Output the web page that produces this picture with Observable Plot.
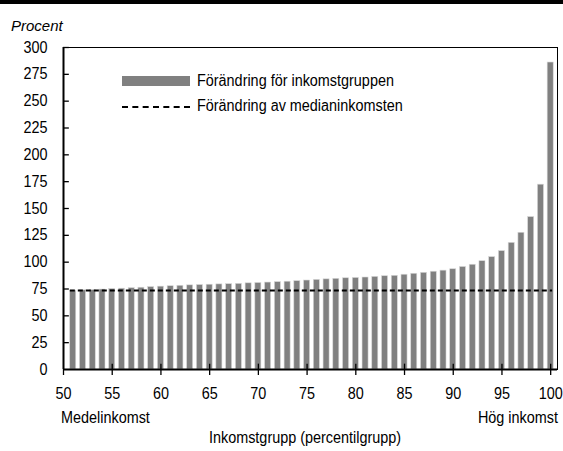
<!DOCTYPE html>
<html>
<head>
<meta charset="utf-8">
<script src="https://cdn.jsdelivr.net/npm/d3@7"></script>
<script src="https://cdn.jsdelivr.net/npm/@observablehq/plot@0.6"></script>
<style>
  html, body { margin: 0; padding: 0; background: white; }
  #wrap { position: relative; width: 563px; height: 451px; overflow: hidden; font-family: "Liberation Sans", Arial, sans-serif; color: black; }
  #wrap svg { position: absolute; left: 0; top: 0; }
  .lbl { position: absolute; font-size: 16px; line-height: 1; white-space: nowrap; }
  #bar { position: absolute; left: 0; top: 0; width: 563px; height: 4px; background: black; }
  #procent { position: absolute; left: 11px; top: 17px; font-family: "Liberation Sans", Arial, sans-serif; font-style: italic; font-size: 15px; }
  .sw { position: absolute; }
</style>
</head>
<body>
<div id="wrap">
  <div id="bar"></div>
  <div id="procent">Procent</div>
</div>
<script>
const percentiles = [51,52,53,54,55,56,57,58,59,60,61,62,63,64,65,66,67,68,69,70,71,72,73,74,75,76,77,78,79,80,81,82,83,84,85,86,87,88,89,90,91,92,93,94,95,96,97,98,99,100];
const groupChange = [73.5,73.8,74,74.5,75,75.3,75.8,76.2,76.8,77.2,77.6,78,78.4,78.7,79,79.3,79.5,79.8,80.3,80.6,81,81.4,81.8,82.3,82.9,83.5,84,84.5,85,85.3,85.7,86.3,86.9,87.3,88.3,89.2,90.1,91.1,92.1,93.4,95.5,97.6,100.9,104.7,110.3,118,127.4,142,172.2,286];
const medianChange = 73.5;
const xTicks = [50,55,60,65,70,75,80,85,90,95,100];
const yTicks = [0,25,50,75,100,125,150,175,200,225,250,275,300];
const seriesNames = ["Förändring för inkomstgruppen", "Förändring av medianinkomsten"];
const xLabel = "Inkomstgrupp (percentilgrupp)";
const xEndLabels = ["Medelinkomst", "Hög inkomst"];

const rows = percentiles.map((p, i) => ({p, v: groupChange[i]}));
const half = 0.31;
const SX = 0.9; // horizontal condensing of the text

const chart = Plot.plot({
  width: 563,
  height: 451,
  marginTop: 47,
  marginBottom: 82,
  marginLeft: 63,
  marginRight: 6,
  style: {fontFamily: '"Liberation Sans", Arial, sans-serif', fontSize: "16px", color: "black", background: "white"},
  x: {domain: [50, 100.7]},
  y: {domain: [0, 300]},
  marks: [
    Plot.rectY(rows, {x1: d => d.p - half, x2: d => d.p + half, y1: 0, y2: "v", fill: "#808080", stroke: "#d8d8d8", strokeWidth: 0.6}),
    Plot.ruleY([medianChange], {x1: percentiles[0] - 0.3, x2: percentiles[percentiles.length - 1] + 0.2, stroke: "black", strokeWidth: 2, strokeDasharray: "5,3"}),
    Plot.frame({stroke: "black", strokeWidth: 1}),
    Plot.ruleX([xTicks[0]], {stroke: "black", strokeWidth: 2}),
    Plot.ruleY([yTicks[0]], {stroke: "black", strokeWidth: 2}),
    Plot.ruleX(xTicks.slice(1), {y1: 0, y2: 5, stroke: "black", strokeWidth: 1.3}),
    Plot.ruleY(yTicks.slice(1), {x1: xTicks[0], x2: xTicks[0] + 0.6, stroke: "black", strokeWidth: 1.3}),
    Plot.axisX({ticks: xTicks, tickSize: 6, tickPadding: 12, tickFormat: d => String(d), label: null, fontSize: 16, strokeWidth: 1.3}),
    Plot.axisY({ticks: yTicks, tickSize: 0, tickPadding: 16, tickFormat: d => String(d), label: null, fontSize: 16})
  ]
});
// condense tick label text horizontally around its anchor
chart.querySelectorAll("text").forEach(t => {
  const tr = t.getAttribute("transform");
  if (tr) {
    t.setAttribute("transform", tr + ` scale(${SX},1)`);
  } else {
    const x = +(t.getAttribute("x") || 0), y = +(t.getAttribute("y") || 0);
    t.removeAttribute("x"); t.removeAttribute("y");
    t.setAttribute("transform", `translate(${x},${y}) scale(${SX},1)`);
  }
});
const wrap = document.getElementById("wrap");
wrap.insertBefore(chart, wrap.firstChild);

function addLabel(text, css, origin) {
  const d = document.createElement("div");
  d.className = "lbl";
  d.textContent = text;
  Object.assign(d.style, css);
  wrap.appendChild(d);
  return d;
}
// legend
const sw1 = document.createElement("div");
sw1.className = "sw";
Object.assign(sw1.style, {left: "122px", top: "76px", width: "68px", height: "10px", background: "#808080"});
wrap.appendChild(sw1);
const sw2 = document.createElement("div");
sw2.className = "sw";
Object.assign(sw2.style, {left: "122px", top: "106px", width: "68px", height: "0px", borderTop: "2px dashed black"});
wrap.appendChild(sw2);
addLabel(seriesNames[0], {left: "197px", top: "73px", transform: `scaleX(${SX})`, transformOrigin: "left center"});
addLabel(seriesNames[1], {left: "197px", top: "98px", transform: `scaleX(${SX})`, transformOrigin: "left center"});
addLabel(xEndLabels[0], {left: "61px", top: "410px", transform: `scaleX(${SX})`, transformOrigin: "left center"});
addLabel(xEndLabels[1], {right: "5px", top: "410px", transform: `scaleX(${SX})`, transformOrigin: "right center"});
addLabel(xLabel, {left: "305px", top: "430px", transform: `translateX(-50%) scaleX(${SX})`, transformOrigin: "center center"});
</script>
</body>
</html>
